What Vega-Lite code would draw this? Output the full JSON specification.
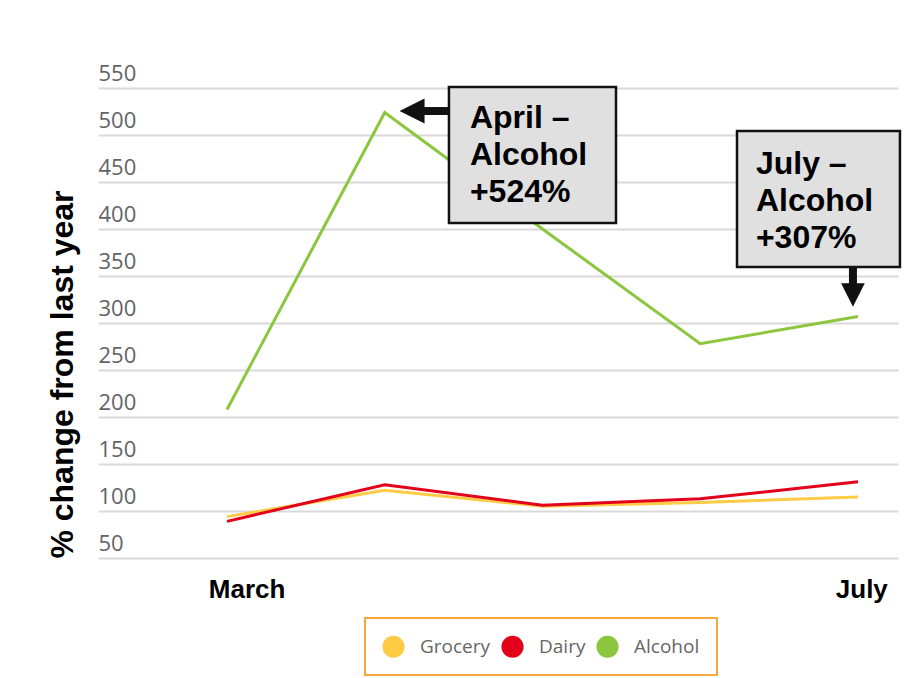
{
  "$schema": "https://vega.github.io/schema/vega-lite/v6.json",
  "width": 800,
  "height": 470,
  "autosize": {"type": "none"},
  "padding": {"left": 98, "top": 88, "right": 16, "bottom": 120},
  "background": "white",
  "config": {"view": {"stroke": null}},
  "layer": [
    {
      "data": {
        "values": [
          {"month": "March", "month_num": 3, "category": "Grocery", "change": 94},
          {"month": "April", "month_num": 4, "category": "Grocery", "change": 122},
          {"month": "May", "month_num": 5, "category": "Grocery", "change": 105},
          {"month": "June", "month_num": 6, "category": "Grocery", "change": 109},
          {"month": "July", "month_num": 7, "category": "Grocery", "change": 115},
          {"month": "March", "month_num": 3, "category": "Dairy", "change": 89},
          {"month": "April", "month_num": 4, "category": "Dairy", "change": 128},
          {"month": "May", "month_num": 5, "category": "Dairy", "change": 106},
          {"month": "June", "month_num": 6, "category": "Dairy", "change": 113},
          {"month": "July", "month_num": 7, "category": "Dairy", "change": 131},
          {"month": "March", "month_num": 3, "category": "Alcohol", "change": 208},
          {"month": "April", "month_num": 4, "category": "Alcohol", "change": 524},
          {"month": "May", "month_num": 5, "category": "Alcohol", "change": 400},
          {"month": "June", "month_num": 6, "category": "Alcohol", "change": 278},
          {"month": "July", "month_num": 7, "category": "Alcohol", "change": 307}
        ]
      },
      "mark": {"type": "line", "strokeWidth": 3},
      "encoding": {
        "x": {
          "field": "month_num",
          "type": "quantitative",
          "scale": {"domain": [2.1822, 7.2536], "nice": false, "zero": false},
          "axis": {
            "values": [3.124, 7.021],
            "labelExpr": "datum.value < 5 ? 'March' : 'July'",
            "grid": false,
            "domain": false,
            "ticks": false,
            "tickSize": 0,
            "labelPadding": 39,
            "labelBaseline": "alphabetic",
            "labelFlush": false,
            "labelOverlap": false,
            "labelFont": "Liberation Sans",
            "labelFontWeight": "bold",
            "labelFontSize": 26,
            "labelColor": "#000000",
            "title": null
          }
        },
        "y": {
          "field": "change",
          "type": "quantitative",
          "scale": {"domain": [50, 550], "nice": false, "zero": false},
          "axis": {
            "values": [50, 100, 150, 200, 250, 300, 350, 400, 450, 500, 550],
            "grid": true,
            "gridColor": "#d9d9d9",
            "gridWidth": 2,
            "domain": false,
            "ticks": false,
            "tickSize": 0,
            "labelAlign": "left",
            "labelBaseline": "alphabetic",
            "labelPadding": 0,
            "labelOffset": -8,
            "labelFlush": false,
            "labelOverlap": false,
            "labelFont": "Open Sans",
            "labelFontSize": 22,
            "labelColor": "#636363",
            "title": "% change from last year",
            "titleFont": "Liberation Sans",
            "titleFontWeight": "bold",
            "titleFontSize": 32,
            "titleColor": "#000000",
            "titleAngle": -90,
            "titleX": -26,
            "titleY": 286,
            "titleAlign": "center",
            "titleBaseline": "alphabetic"
          }
        },
        "color": {
          "field": "category",
          "type": "nominal",
          "scale": {"domain": ["Grocery", "Dairy", "Alcohol"], "range": ["#fecb45", "#e2001a", "#8cc63f"]},
          "legend": {
            "title": null,
            "orient": "none",
            "legendX": 267,
            "legendY": 530,
            "direction": "horizontal",
            "symbolType": "circle",
            "symbolSize": 490,
            "symbolStrokeWidth": 0,
            "labelFont": "Open Sans",
            "labelFontSize": 19,
            "labelColor": "#666666",
            "labelOffset": 15,
            "columnPadding": 10,
            "padding": 17,
            "strokeColor": "#f7a53d",
            "encode": {
              "symbols": {"update": {"fill": {"scale": "color", "field": "value"}, "fillOpacity": {"value": 1}, "strokeWidth": {"value": 0}}},
              "legend": {"update": {"strokeWidth": {"value": 2}}}
            }
          }
        }
      }
    },
    {
      "data": {"values": [{"note": "April"}]},
      "mark": {"type": "rect", "fill": "#e0e0e0", "stroke": "#111111", "strokeWidth": 2.5},
      "encoding": {"x": {"datum": 4.407}, "x2": {"datum": 5.466}, "y": {"datum": 551}, "y2": {"datum": 406.4}}
    },
    {
      "data": {"values": [{"label": "April –\nAlcohol\n+524%"}]},
      "mark": {"type": "text", "align": "left", "baseline": "alphabetic", "font": "Liberation Sans", "fontWeight": "bold", "fontSize": 32, "lineHeight": 37, "lineBreak": "\n", "color": "#000000"},
      "encoding": {"x": {"datum": 4.54}, "y": {"datum": 507.4}, "text": {"field": "label"}}
    },
    {
      "data": {"values": [{"note": "April"}]},
      "mark": {"type": "rule", "strokeWidth": 8, "color": "#111111"},
      "encoding": {"x": {"datum": 4.223}, "x2": {"datum": 4.407}, "y": {"datum": 525.5}}
    },
    {
      "data": {"values": [{"note": "April"}]},
      "mark": {"type": "point", "shape": "M-1,0L1,-1L1,1Z", "size": 625, "filled": true, "color": "#111111", "opacity": 1, "strokeWidth": 0},
      "encoding": {"x": {"datum": 4.173}, "y": {"datum": 525.5}}
    },
    {
      "data": {"values": [{"note": "July"}]},
      "mark": {"type": "rect", "fill": "#e0e0e0", "stroke": "#111111", "strokeWidth": 2.5},
      "encoding": {"x": {"datum": 6.233}, "x2": {"datum": 7.266}, "y": {"datum": 504.3}, "y2": {"datum": 359.6}}
    },
    {
      "data": {"values": [{"label": "July –\nAlcohol\n+307%"}]},
      "mark": {"type": "text", "align": "left", "baseline": "alphabetic", "font": "Liberation Sans", "fontWeight": "bold", "fontSize": 32, "lineHeight": 37, "lineBreak": "\n", "color": "#000000"},
      "encoding": {"x": {"datum": 6.353}, "y": {"datum": 458.5}, "text": {"field": "label"}}
    },
    {
      "data": {"values": [{"note": "July"}]},
      "mark": {"type": "rule", "strokeWidth": 8, "color": "#111111"},
      "encoding": {"x": {"datum": 6.968}, "y": {"datum": 359.6}, "y2": {"datum": 338.3}}
    },
    {
      "data": {"values": [{"note": "July"}]},
      "mark": {"type": "point", "shape": "M0,1L-1,-1L1,-1Z", "size": 560, "filled": true, "color": "#111111", "opacity": 1, "strokeWidth": 0},
      "encoding": {"x": {"datum": 6.968}, "y": {"datum": 329.8}}
    }
  ]
}
